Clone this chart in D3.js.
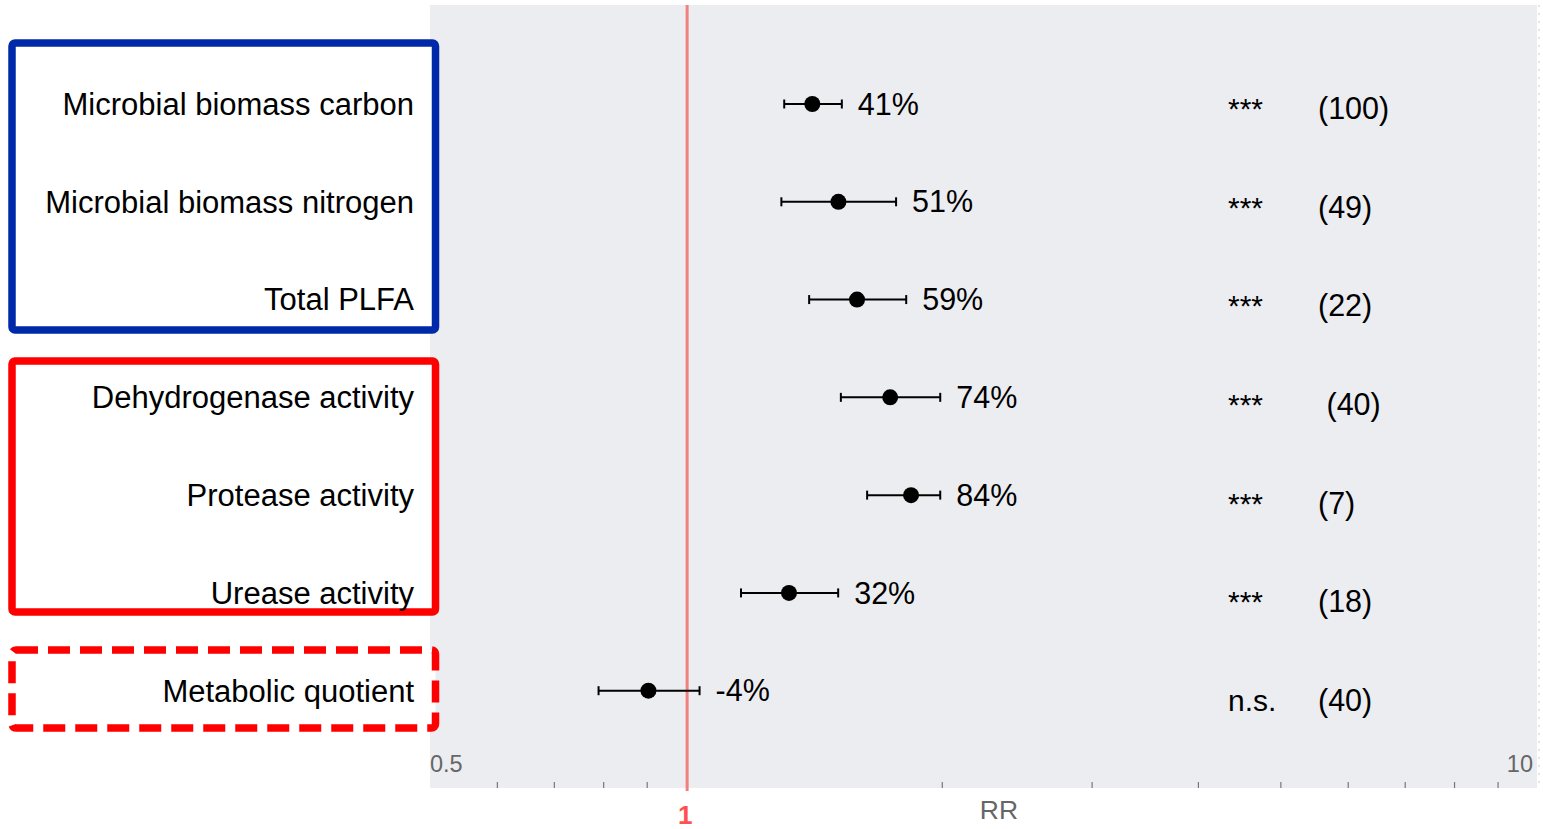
<!DOCTYPE html>
<html>
<head>
<meta charset="utf-8">
<script src="https://cdn.jsdelivr.net/npm/d3@7"></script>
<style>
    body { margin: 0; background: #fff; }
    svg { display: block; font-family: "Liberation Sans", Arial, sans-serif; }
    .keep { white-space: pre; }
</style>
</head>
<body>
<svg id="chart" width="1543" height="829"></svg>
<script>
    'use strict';

    // chart data
    var categories = ["Microbial biomass carbon", "Microbial biomass nitrogen", "Total PLFA",
                      "Dehydrogenase activity", "Protease activity", "Urease activity", "Metabolic quotient"],
        rrMean = [1.407, 1.51, 1.588, 1.737, 1.838, 1.321, 0.903],
        rrLower = [1.304, 1.294, 1.395, 1.52, 1.632, 1.16, 0.789],
        rrUpper = [1.524, 1.765, 1.814, 1.989, 1.989, 1.509, 1.037],
        pctLabels = ["41%", "51%", "59%", "74%", "84%", "32%", "-4%"],
        signif = ["***", "***", "***", "***", "***", "***", "n.s."],
        counts = ["(100)", "(49)", "(22)", " (40)", "(7)", "(18)", "(40)"],
        minorTicks = [0.6, 0.7, 0.8, 0.9, 2, 3, 4, 5, 6, 7, 8, 9];

    /**
      * Build the forest plot.
      */
    function drawChart() {
        var svg = d3.select("#chart"),
            plotLeft = 430,
            plotRight = 1537,
            plotTop = 5,
            plotBottom = 788,
            x = d3.scaleLog().domain([0.5, 10]).range([plotLeft, plotRight]),
            y = d3.scalePoint().domain(categories).range([104, 690.7]),
            yStat = d3.scalePoint().domain(categories).range([119, 711]),
            rows = categories.map(function (c, i) {
                return {name: c, mean: rrMean[i], lo: rrLower[i], hi: rrUpper[i],
                        pct: pctLabels[i], sig: signif[i], n: counts[i]};
            }),
            g;

        // plot panel
        svg.append("rect")
            .attr("x", plotLeft).attr("y", plotTop)
            .attr("width", plotRight - plotLeft).attr("height", plotBottom - plotTop)
            .attr("fill", "#ecedf1");
        svg.append("line")
            .attr("x1", plotRight + 2).attr("x2", plotRight + 2)
            .attr("y1", plotTop).attr("y2", plotBottom)
            .attr("stroke", "#c8c8cc").attr("stroke-dasharray", "2,6");

        // minor ticks at bottom of panel
        svg.append("g").selectAll("line")
            .data(minorTicks)
            .enter().append("line")
            .attr("x1", function (d) { return x(d); })
            .attr("x2", function (d) { return x(d); })
            .attr("y1", plotBottom - 6).attr("y2", plotBottom)
            .attr("stroke", "#777").attr("stroke-width", 1.2);

        // reference line at RR = 1
        svg.append("line")
            .attr("x1", x(1) + 1).attr("x2", x(1) + 1)
            .attr("y1", plotTop).attr("y2", plotBottom + 3)
            .attr("stroke", "#f28080").attr("stroke-width", 3);

        // axis texts
        svg.append("text").text("0.5")
            .attr("x", plotLeft).attr("y", 772)
            .attr("font-size", 23.5).attr("fill", "#666");
        svg.append("text").text("10")
            .attr("x", plotRight - 4).attr("y", 772)
            .attr("text-anchor", "end")
            .attr("font-size", 23.5).attr("fill", "#666");
        svg.append("text").text("1")
            .attr("x", x(1) - 1).attr("y", 824)
            .attr("text-anchor", "middle")
            .attr("font-size", 26).attr("font-weight", "bold").attr("fill", "#ff5050");
        svg.append("text").text("RR")
            .attr("x", 999).attr("y", 819)
            .attr("text-anchor", "middle")
            .attr("font-size", 26.5).attr("fill", "#666");

        // group boxes
        svg.append("rect")
            .attr("x", 12).attr("y", 43).attr("width", 423.5).attr("height", 287)
            .attr("rx", 3).attr("fill", "#fff")
            .attr("stroke", "#0029aa").attr("stroke-width", 7.5);
        svg.append("rect")
            .attr("x", 12).attr("y", 361).attr("width", 423.5).attr("height", 251)
            .attr("rx", 3).attr("fill", "#fff")
            .attr("stroke", "#ff0000").attr("stroke-width", 7.5);
        svg.append("rect")
            .attr("x", 12).attr("y", 650).attr("width", 423.5).attr("height", 78)
            .attr("rx", 4).attr("fill", "#fff")
            .attr("stroke", "#ff0000").attr("stroke-width", 7.5)
            .attr("stroke-dasharray", "22,10");

        // category labels
        svg.append("g").selectAll("text")
            .data(rows)
            .enter().append("text")
            .text(function (d) { return d.name; })
            .attr("x", 414)
            .attr("y", function (d) { return y(d.name); })
            .attr("dy", "0.35em")
            .attr("text-anchor", "end")
            .attr("font-size", 31).attr("fill", "#000");

        g = svg.append("g").selectAll("g")
            .data(rows)
            .enter().append("g");

        // error bars
        g.append("line")
            .attr("x1", function (d) { return x(d.lo); })
            .attr("x2", function (d) { return x(d.hi); })
            .attr("y1", function (d) { return y(d.name); })
            .attr("y2", function (d) { return y(d.name); })
            .attr("stroke", "#000").attr("stroke-width", 2);
        g.append("line")
            .attr("x1", function (d) { return x(d.lo); })
            .attr("x2", function (d) { return x(d.lo); })
            .attr("y1", function (d) { return y(d.name) - 4.5; })
            .attr("y2", function (d) { return y(d.name) + 4.5; })
            .attr("stroke", "#000").attr("stroke-width", 2);
        g.append("line")
            .attr("x1", function (d) { return x(d.hi); })
            .attr("x2", function (d) { return x(d.hi); })
            .attr("y1", function (d) { return y(d.name) - 4.5; })
            .attr("y2", function (d) { return y(d.name) + 4.5; })
            .attr("stroke", "#000").attr("stroke-width", 2);
        g.append("circle")
            .attr("cx", function (d) { return x(d.mean); })
            .attr("cy", function (d) { return y(d.name); })
            .attr("r", 8).attr("fill", "#000");

        // percent change labels
        g.append("text")
            .text(function (d) { return d.pct; })
            .attr("x", function (d) { return x(d.hi) + 16; })
            .attr("y", function (d) { return y(d.name); })
            .attr("dy", "0.35em")
            .attr("font-size", 30.5).attr("fill", "#000");

        // significance and sample sizes
        g.append("text")
            .text(function (d) { return d.sig; })
            .attr("x", 1228)
            .attr("y", function (d) { return yStat(d.name); })
            .attr("font-size", 30).attr("fill", "#000");
        g.append("text")
            .attr("class", "keep")
            .text(function (d) { return d.n; })
            .attr("x", 1318)
            .attr("y", function (d) { return yStat(d.name); })
            .attr("font-size", 30.5).attr("fill", "#000");
    }

    drawChart();
</script>
</body>
</html>
